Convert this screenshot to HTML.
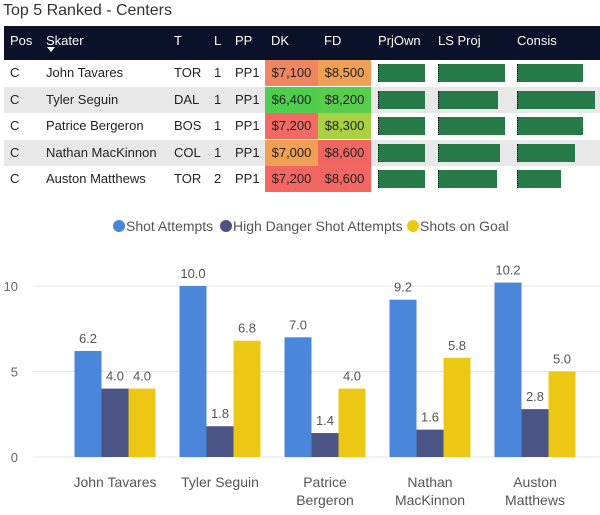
<!DOCTYPE html>
<html><head><meta charset="utf-8"><style>
body{margin:0;width:600px;height:515px;background:#fff;font-family:"Liberation Sans",sans-serif;position:relative;overflow:hidden;color:#222}
.a{position:absolute}
.hd{color:#fff;font-size:13px;top:33px}
.cell{position:absolute;font-size:13px;height:26px;line-height:26px}
</style></head><body>
<div class="a" style="left:3px;top:2px;font-size:16px;color:#333">Top 5 Ranked - Centers</div>
<div class="a" style="left:4px;top:26px;width:596px;height:34px;background:#0b1128"></div>
<div class="a hd" style="left:10px">Pos</div>
<div class="a hd" style="left:46px">Skater<div style="position:absolute;left:1px;top:14px;width:0;height:0;border-left:4px solid transparent;border-right:4px solid transparent;border-top:5px solid #fff"></div></div>
<div class="a hd" style="left:174px">T</div>
<div class="a hd" style="left:214px">L</div>
<div class="a hd" style="left:235px">PP</div>
<div class="a hd" style="left:271px">DK</div>
<div class="a hd" style="left:324px">FD</div>
<div class="a hd" style="left:378px">PrjOwn</div>
<div class="a hd" style="left:438px">LS Proj</div>
<div class="a hd" style="left:517px">Consis</div>
<div id="rows"></div>
<svg id="chart" class="a" style="left:0;top:200px" width="600" height="315"></svg>
<script>
const players=["John Tavares","Tyler Seguin","Patrice Bergeron","Nathan MacKinnon","Auston Matthews"];
const teams=["TOR","DAL","BOS","COL","TOR"];
const lines=["1","1","1","1","2"];
const dk=["$7,100","$6,400","$7,200","$7,000","$7,200"];
const fd=["$8,500","$8,200","$8,300","$8,600","$8,600"];
const dkColors=["#ef8660","#4fcd4f","#f26a64","#f0a052","#f46662"];
const fdColors=["#f0a052","#58cd4c","#a9d143","#f26662","#f46662"];
const prjOwn=[46,46,46,46,46];
const lsProj=[66,59,66,61,58];
const consis=[65,77,65,57,43];
const shotAttempts=[6.2,10.0,7.0,9.2,10.2];
const hdAttempts=[4.0,1.8,1.4,1.6,2.8];
const shotsOnGoal=[4.0,6.8,4.0,5.8,5.0];
const yTicks=[0,5,10];
const catLines=[["John Tavares"],["Tyler Seguin"],["Patrice","Bergeron"],["Nathan","MacKinnon"],["Auston","Matthews"]];

const R=document.getElementById('rows');
players.forEach((p,i)=>{
  const top=60+i*26.6;
  const row=document.createElement('div');
  row.className='a';
  
  
  row.style.cssText=`left:4px;top:${top}px;width:596px;height:26px;background:${i%2?'#e8e8e8':'#fff'}`;
  R.appendChild(row);
  const add=(txt,l,w,bg,name)=>{const c=document.createElement('div');c.className='cell';c.textContent=txt;
    
    
    c.style.left=l+'px';c.style.top=top+'px';if(w){c.style.width=w+'px';c.style.textAlign='center';}if(bg)c.style.background=bg;R.appendChild(c);};
  add('C',10,0,null,'pos-cell');add(p,46,0,null,'skater-cell');add(teams[i],174,0,null,'team-cell');
  add(lines[i],214,0,null,'line-cell');add('PP1',235,0,null,'pp-cell');
  add(dk[i],265,53,dkColors[i],'dk-cell');add(fd[i],318,53,fdColors[i],'fd-cell');
  [[378,prjOwn[i]],[438,lsProj[i]],[517,consis[i]]].forEach(([x,w])=>{
    const b=document.createElement('div');b.className='a';
    
    
    b.style.cssText=`left:${x}px;top:${top+4}px;width:${w}px;height:18px;background:#267a47;border-left:1px dotted #000`;R.appendChild(b);
  });
});

const S=document.getElementById('chart');const NS='http://www.w3.org/2000/svg';
const el=(t,a,txt)=>{const e=document.createElementNS(NS,t);for(const k in a)e.setAttribute(k,a[k]);if(txt!==undefined)e.textContent=txt;S.appendChild(e);return e;};
const y=v=>257-v*17.1;
const gx=i=>115+i*105;
yTicks.forEach(t=>{const l=el('line',{x1:33,x2:600,y1:y(t),y2:y(t),stroke:'#e4e4e4','stroke-width':1});
  
  
  const tx=el('text',{x:18,y:y(t)+5,'text-anchor':'end','font-size':13,fill:'#666'},t);
  
  });
const series=[[shotAttempts,'#4a86d9'],[hdAttempts,'#4a5585'],[shotsOnGoal,'#ecc815']];
players.forEach((p,i)=>{
  series.forEach(([vals,c],s)=>{
    const x=gx(i)-40.5+s*27;const v=vals[i];
    const r=el('rect',{x:x,y:y(v),width:27,height:y(0)-y(v),fill:c});
    
    
    const t=el('text',{x:x+13.5,y:y(v)-8,'text-anchor':'middle','font-size':13,fill:'#555'},v.toFixed(1));
    
    
  });
  catLines[i].forEach((ln,k)=>{const t=el('text',{x:gx(i),y:287+k*18,'text-anchor':'middle','font-size':14,fill:'#555'},ln);
    
    });
});
const leg=[['Shot Attempts','#4a86d9',119],['High Danger Shot Attempts','#4a5585',226],['Shots on Goal','#ecc815',413]];
leg.forEach(([n,c,x])=>{const ci=el('circle',{cx:x,cy:26,r:6,fill:c});
  
  
  const t=el('text',{x:x+7,y:31,'font-size':14,fill:'#555'},n);
  
  });
</script>
</body></html>
